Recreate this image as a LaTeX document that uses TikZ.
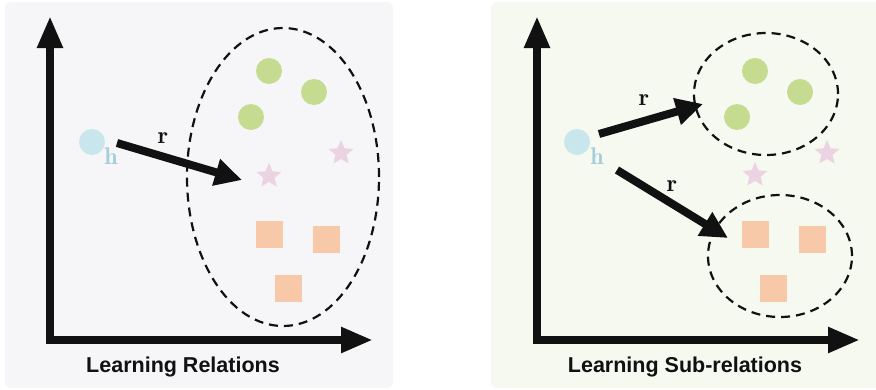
\documentclass[tikz,border=0pt]{standalone}
\usepackage{fontspec}
\setsansfont{Liberation Sans}
\usepackage{xcolor}
\definecolor{panelGray}{HTML}{F6F6F8}
\definecolor{panelGreen}{HTML}{F6F9F0}
\definecolor{headBlue}{HTML}{C8E6EC}
\definecolor{headBlueText}{HTML}{A4CCD9}
\definecolor{tailGreen}{HTML}{C5DC90}
\definecolor{tailPink}{HTML}{EBD3E1}
\definecolor{tailOrange}{HTML}{F7C9A8}
\definecolor{axisBlack}{HTML}{111111}
\usepackage{tikz}
\usetikzlibrary{arrows.meta,shapes.geometric}
\tikzset{
  panel bg/.style={rounded corners=6pt, draw=none},
  panel title/.style={font=\sffamily\bfseries\fontsize{21.5}{26}\selectfont, text=axisBlack},
  axis arrow/.style={{Triangle[length=32pt,width=24pt]}-{Triangle[length=32pt,width=24pt]}, line width=8pt, draw=axisBlack},
  rel arrow/.style={-{Triangle[length=27pt,width=26pt]}, line width=8pt, draw=axisBlack},
  rel label/.style={font=\fontsize{24}{28}\selectfont, text=axisBlack, inner sep=0pt},
  head dot/.style={circle, fill=headBlue, minimum size=26pt, inner sep=0pt},
  head label/.style={font=\fontsize{24}{28}\selectfont, text=headBlueText, inner sep=0pt},
  tail dot/.style={circle, fill=tailGreen, minimum size=26pt, inner sep=0pt},
  tail star/.style={star, star points=5, star point ratio=2.2, fill=tailPink, minimum size=26pt, inner sep=0pt},
  tail square/.style={rectangle, fill=tailOrange, minimum size=27pt, inner sep=0pt},
  cluster/.style={ellipse, draw=axisBlack, line width=2.2pt, dash pattern=on 9pt off 6pt, inner sep=0pt},
}

\begin{document}
\begin{tikzpicture}[x=1pt, y=-1pt]
  \useasboundingbox (0,0) rectangle (876,389);
  % left panel: learning relations
  \fill[panel bg, panelGray] (5,2) rectangle (393,388);
  \coordinate (ly) at (50,16);
  \coordinate (lo) at (50,340);
  \coordinate (lx) at (373,340);
  \draw[axis arrow] (ly) -- (lo) -- (lx);
  \node[panel title] (ltitle) at (183,367) {Learning Relations};

  \node[cluster, minimum width=192pt, minimum height=298pt] (lclus) at (283,177) {};
  \node[tail dot] (lg1) at (269,71) {};
  \node[tail dot] (lg2) at (314,92) {};
  \node[tail dot] (lg3) at (251,117) {};
  \node[tail star] (ls1) at (269,176) {};
  \node[tail star] (ls2) at (341,153) {};
  \node[tail square] (lq1) at (269.5,234.5) {};
  \node[tail square] (lq2) at (326.5,239.5) {};
  \node[tail square] (lq3) at (288.5,288.5) {};

  \node[head dot] (lh) at (92,142) {};
  \node[head label] (lhl) at (111,156) {$\mathbf{h}$};
  \coordinate (lrs) at (117,143);
  \coordinate (lre) at (242,180);
  \draw[rel arrow] (lrs) -- (lre);
  \node[rel label] (lr) at (163,138) {$\mathbf{r}$};

  % right panel: learning sub-relations
  \fill[panel bg, panelGreen] (491,2) rectangle (886,388);
  \coordinate (ry) at (537,16);
  \coordinate (ro) at (537,340);
  \coordinate (rx) at (860,340);
  \draw[axis arrow] (ry) -- (ro) -- (rx);
  \node[panel title] (rtitle) at (685,367) {Learning Sub-relations};

  \node[cluster, minimum width=144pt, minimum height=122pt] (rclus1) at (766,94) {};
  \node[cluster, minimum width=144pt, minimum height=122pt] (rclus2) at (780,256) {};
  \node[tail dot] (rg1) at (755,71) {};
  \node[tail dot] (rg2) at (800,92) {};
  \node[tail dot] (rg3) at (737,117) {};
  \node[tail star] (rs1) at (755,175) {};
  \node[tail star] (rs2) at (827,153) {};
  \node[tail square] (rq1) at (755,234.5) {};
  \node[tail square] (rq2) at (812.5,239.5) {};
  \node[tail square] (rq3) at (773.5,288.5) {};

  \node[head dot] (rh) at (577,142) {};
  \node[head label] (rhl) at (597,156) {$\mathbf{h}$};
  \coordinate (rr1s) at (599,134);
  \coordinate (rr1e) at (703,104);
  \draw[rel arrow] (rr1s) -- (rr1e);
  \node[rel label] (rr1) at (644,100) {$\mathbf{r}$};
  \coordinate (rr2s) at (617,170);
  \coordinate (rr2e) at (728,238);
  \draw[rel arrow] (rr2s) -- (rr2e);
  \node[rel label] (rr2) at (672,186) {$\mathbf{r}$};
\end{tikzpicture}
\end{document}
